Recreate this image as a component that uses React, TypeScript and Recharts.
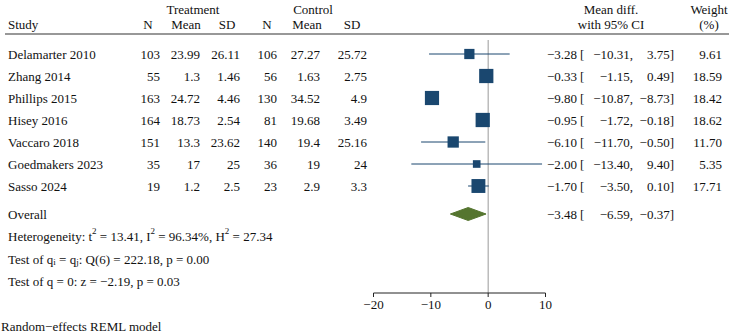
import React from 'react';
import { ComposedChart, Scatter, XAxis, YAxis, ReferenceLine, Customized } from 'recharts';

// ---------- data ----------
const studies = ['Delamarter 2010', 'Zhang 2014', 'Phillips 2015', 'Hisey 2016', 'Vaccaro 2018', 'Goedmakers 2023', 'Sasso 2024'];
const treatN = [103, 55, 163, 164, 151, 35, 19];
const treatMean = [23.99, 1.3, 24.72, 18.73, 13.3, 17, 1.2];
const treatSD = [26.11, 1.46, 4.46, 2.54, 23.62, 25, 2.5];
const ctrlN = [106, 56, 130, 81, 140, 36, 23];
const ctrlMean = [27.27, 1.63, 34.52, 19.68, 19.4, 19, 2.9];
const ctrlSD = [25.72, 2.75, 4.9, 3.49, 25.16, 24, 3.3];
const meanDiff = [-3.28, -0.33, -9.8, -0.95, -6.1, -2.0, -1.7];
const ciLow = [-10.31, -1.15, -10.87, -1.72, -11.7, -13.4, -3.5];
const ciHigh = [3.75, 0.49, -8.73, -0.18, -0.5, 9.4, 0.1];
const weights = [9.61, 18.59, 18.42, 18.62, 11.7, 5.35, 17.71];
const overallMD = -3.48;
const overallLow = -6.59;
const overallHigh = -0.37;
const xTicks = [-20, -10, 0, 10];
const tau2 = 13.41;
const i2 = 96.34;
const h2 = 27.34;
const qStat = 222.18;
const qDf = 6;
const qP = 0.0;
const zStat = -2.19;
const zP = 0.03;

// ---------- layout ----------
const W = 732;
const H = 334;
const FONT = "'Liberation Serif', 'Times New Roman', Times, serif";
const FS = 13;
const NAVY = '#1a476f';
const GREEN = '#55752f';
const ROW0 = 54;
const ROWH = 22;
const PLOT_TOP = 40;
const PLOT_BOTTOM = 293;
const OVERALL_Y = 214;
const rowPix = (i: number) => ROW0 + ROWH * i;
const pixToRow = (p: number) => (p - ROW0) / ROWH;
const overallRow = pixToRow(OVERALL_Y);
const yDomain = [pixToRow(PLOT_TOP), pixToRow(PLOT_BOTTOM)];

const minus = (s: string) => s.replace('-', '\u2212');
const f2 = (v: number) => (v < 0 ? '\u2212' : '') + Math.abs(v).toFixed(2);
const fRaw = (v: number) => minus(String(v));

const studyData = studies.map((s, i) => ({ name: s, x: meanDiff[i], y: i, w: weights[i] }));
const diamondData = [
  { x: overallLow, y: overallRow },
  { x: overallMD, y: overallRow - 6.5 / ROWH },
  { x: overallHigh, y: overallRow },
  { x: overallMD, y: overallRow + 6.5 / ROWH },
];

const SquareShape = (props: any) => {
  const { cx, cy, payload } = props;
  const s = 3.3 * Math.sqrt(payload.w);
  return <rect x={cx - s / 2} y={cy - s / 2} width={s} height={s} fill={NAVY} />;
};
const NoShape = () => <g />;

const T = (p: any) => (
  <text fontFamily={FONT} fontSize={FS} fill="#111" dominantBaseline="central" {...p} />
);

const colRight = [160, 200, 240, 277, 320, 367];
const colHead = [148, 186, 227, 267, 307, 352];

const TableLayer = () => {
  const cols = [treatN, treatMean, treatSD, ctrlN, ctrlMean, ctrlSD];
  const heads = ['N', 'Mean', 'SD', 'N', 'Mean', 'SD'];
  const sub = { fontSize: 9 };
  return (
    <g>
      <T x={193} y={9} textAnchor="middle">Treatment</T>
      <T x={313} y={9} textAnchor="middle">Control</T>
      <T x={611} y={9} textAnchor="middle">Mean diff.</T>
      <T x={611} y={24} textAnchor="middle">with 95% CI</T>
      <T x={709} y={9} textAnchor="middle">Weight</T>
      <T x={709} y={24} textAnchor="middle">(%)</T>
      <T x={8} y={24}>Study</T>
      {heads.map((h, j) => (
        <T key={'h' + j} x={colHead[j]} y={24} textAnchor="middle">{h}</T>
      ))}
      <line x1={5} x2={729} y1={34} y2={34} stroke="#333" strokeWidth={1.2} />
      {studies.map((s, i) => {
        const y = rowPix(i);
        return (
          <g key={s}>
            <T x={8} y={y}>{s}</T>
            {cols.map((c, j) => (
              <T key={j} x={colRight[j]} y={y} textAnchor="end">{fRaw(c[i])}</T>
            ))}
            <T x={577} y={y} textAnchor="end">{f2(meanDiff[i])}</T>
            <T x={580} y={y}>[</T>
            <T x={633} y={y} textAnchor="end">{f2(ciLow[i]) + ','}</T>
            <T x={674} y={y} textAnchor="end">{f2(ciHigh[i]) + ']'}</T>
            <T x={722} y={y} textAnchor="end">{weights[i].toFixed(2)}</T>
          </g>
        );
      })}
      <T x={8} y={OVERALL_Y}>Overall</T>
      <T x={577} y={OVERALL_Y} textAnchor="end">{f2(overallMD)}</T>
      <T x={580} y={OVERALL_Y}>[</T>
      <T x={633} y={OVERALL_Y} textAnchor="end">{f2(overallLow) + ','}</T>
      <T x={674} y={OVERALL_Y} textAnchor="end">{f2(overallHigh) + ']'}</T>
      <T x={8} y={236}>
        <tspan>Heterogeneity: t</tspan>
        <tspan dy={-5} {...sub}>2</tspan>
        <tspan dy={5}>{' = ' + tau2.toFixed(2) + ', I'}</tspan>
        <tspan dy={-5} {...sub}>2</tspan>
        <tspan dy={5}>{' = ' + i2.toFixed(2) + '%, H'}</tspan>
        <tspan dy={-5} {...sub}>2</tspan>
        <tspan dy={5}>{' = ' + h2.toFixed(2)}</tspan>
      </T>
      <T x={8} y={259}>
        <tspan>Test of q</tspan>
        <tspan dy={3} {...sub}>i</tspan>
        <tspan dy={-3}> = q</tspan>
        <tspan dy={3} {...sub}>j</tspan>
        <tspan dy={-3}>{': Q(' + qDf + ') = ' + qStat.toFixed(2) + ', p = ' + qP.toFixed(2)}</tspan>
      </T>
      <T x={8} y={281}>{'Test of q = 0: z = ' + f2(zStat) + ', p = ' + zP.toFixed(2)}</T>
      <T x={1} y={326}>Random{'\u2212'}effects REML model</T>
    </g>
  );
};

export default function App() {
  return (
    <div style={{ position: 'absolute', left: 0, top: 0, width: W, height: H, background: '#fff' }}>
      <ComposedChart
        width={W}
        height={H}
        margin={{ top: PLOT_TOP, left: 373.5, right: W - 545.5, bottom: H - PLOT_BOTTOM - 30 }}
      >
        <XAxis
          type="number"
          dataKey="x"
          domain={[-20, 10]}
          ticks={xTicks}
          interval={0}
          allowDataOverflow
          height={30}
          tickSize={4}
          tickMargin={3}
          stroke="#222"
          tick={{ fill: '#111', fontSize: FS, fontFamily: FONT }}
          tickFormatter={(v: number) => (v < 0 ? '\u2212' + Math.abs(v) : String(v))}
        />
        <YAxis type="number" dataKey="y" hide domain={yDomain} reversed allowDataOverflow />
        <ReferenceLine x={0} stroke="#9a9a9a" strokeWidth={1} />
        {studies.map((s, i) => (
          <ReferenceLine
            key={s}
            segment={[{ x: ciLow[i], y: i }, { x: ciHigh[i], y: i }]}
            stroke={NAVY}
            strokeWidth={1}
            ifOverflow="visible"
          />
        ))}
        <Scatter data={studyData} shape={SquareShape} isAnimationActive={false} />
        <Scatter
          data={diamondData}
          shape={NoShape}
          line={{ fill: GREEN, stroke: GREEN, strokeWidth: 1 }}
          lineJointType="linearClosed"
          isAnimationActive={false}
        />
        <Customized component={TableLayer} />
      </ComposedChart>
    </div>
  );
}
